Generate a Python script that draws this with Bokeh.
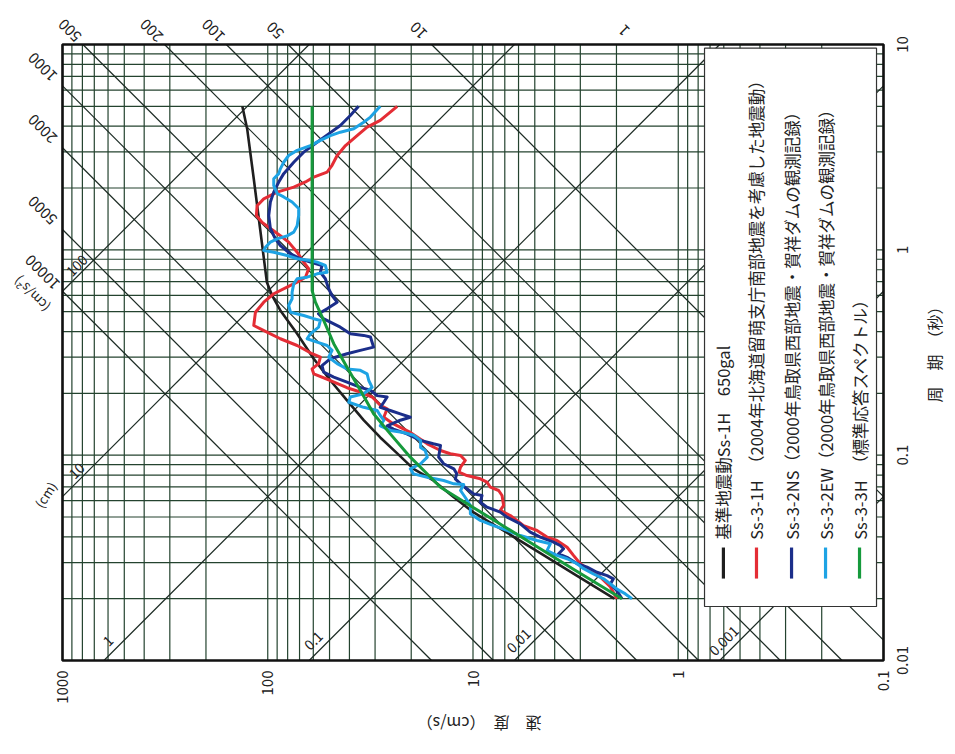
import math
from bokeh.plotting import figure
from bokeh.models import Range1d, ColumnDataSource, LabelSet, Label
from bokeh.core.properties import value
from bokeh.embed import file_html
from bokeh.resources import INLINE

FONT = "Noto Sans CJK JP"
GRID = "#24432f"
DIAG = "#1b2a23"
TXT = "#222222"

# ---------------- axes / reference lines ----------------
period_ticks = [0.01, 0.1, 1, 10]
period_labels = ["0.01", "0.1", "1", "10"]
velocity_ticks = [1000, 100, 10, 1, 0.1]
velocity_labels = ["1000", "100", "10", "1", "0.1"]
grid_mantissas = [2, 3, 4, 5, 6, 7, 8, 9]

accel_lines = [10, 50, 100, 200, 500, 1000, 2000, 5000, 10000]         # cm/s^2
accel_top_labels = [500, 200, 100, 50, 10, 1]
accel_left_labels = [1000, 2000, 5000, 10000]
disp_lines = [0.001, 0.01, 0.1, 1, 10, 100]                            # cm
disp_left_labels = [100, 10]
disp_bottom_labels = [1, 0.1, 0.01, 0.001]

# ---------------- series (period s, velocity cm/s) ----------------
series_names = [
    "基準地震動Ss-1H　650gal",
    "Ss-3-1H　（2004年北海道留萌支庁南部地震を考慮した地震動）",
    "Ss-3-2NS（2000年鳥取県西部地震・賀祥ダムの観測記録）",
    "Ss-3-2EW（2000年鳥取県西部地震・賀祥ダムの観測記録）",
    "Ss-3-3H　（標準応答スペクトル）",
]
series_colors = ["#1f1f1f", "#e42d35", "#1b2e8a", "#1ea3e4", "#169a3c"]
series_widths = [2.6, 3, 3, 3, 3]

ss1h_T = [5.0, 3.89, 2.22, 1.27, 0.696, 0.599, 0.507, 0.390, 0.295, 0.231, 0.185,
          0.148, 0.122, 0.102, 0.0858, 0.0753, 0.0624, 0.0526, 0.0419, 0.0333, 0.0265, 0.02]
ss1h_V = [133, 126, 117, 109, 101, 95.2, 86.8, 71.9, 59.7, 49.5, 41.1,
          34.1, 28.3, 23.4, 19.5, 15.6, 12.4, 9.93, 6.83, 4.70, 3.24, 2.05]

ss31h_T = [5.0, 4.27, 3.96, 3.60, 3.22, 2.88, 2.58, 2.39, 2.26, 2.14, 2.02, 1.91, 1.77, 1.64,
           1.47, 1.36, 1.27, 1.17, 1.09, 0.974, 0.871, 0.809, 0.736, 0.696, 0.658, 0.611,
           0.556, 0.497, 0.428, 0.405, 0.369, 0.342, 0.312, 0.300, 0.279, 0.263, 0.249,
           0.231, 0.213, 0.203, 0.192, 0.175, 0.168, 0.153, 0.142, 0.129, 0.1136, 0.1054,
           0.1016, 0.0996, 0.0942, 0.0874, 0.0826, 0.0796, 0.0767, 0.0739, 0.0698, 0.0673,
           0.0636, 0.0569, 0.0538, 0.0508, 0.0481, 0.0454, 0.0430, 0.0399, 0.0384, 0.0356,
           0.0325, 0.0296, 0.0274, 0.0255, 0.0228, 0.02]
ss31h_V = [23.4, 28.3, 32.8, 36.7, 41.8, 45.9, 48.6, 51.4, 59.7, 65.5, 74.7, 90.0, 104.6, 112.7,
           113.6, 106.5, 97.1, 86.8, 79.1, 71.9, 66.8, 63.2, 65.5, 71.9, 80.5, 93.5,
           104.6, 114.8, 117.0, 105.0, 86.8, 71.9, 60.8, 55.4, 56.5, 60.8, 59.7,
           49.5, 41.1, 35.4, 31.0, 28.3, 26.2, 27.2, 24.4, 20.2, 16.7, 14.4,
           12.9, 11.5, 10.9, 11.5, 11.7, 10.7, 9.21, 8.55, 8.23, 7.50,
           7.22, 7.09, 7.36, 6.58, 6.11, 5.67, 4.88, 4.36, 3.90, 3.48,
           3.24, 3.00, 2.68, 2.40, 2.14, 1.99]

ss32ns_T = [5.0, 4.51, 4.03, 3.67, 3.34, 2.99, 2.67, 2.35, 2.14, 1.91, 1.71, 1.47, 1.27, 1.13,
            1.05, 0.956, 0.905, 0.871, 0.839, 0.778, 0.723, 0.646, 0.599, 0.556, 0.516, 0.488,
            0.462, 0.420, 0.390, 0.383, 0.376, 0.336, 0.324, 0.312, 0.295, 0.273, 0.254, 0.240,
            0.227, 0.214, 0.207, 0.195, 0.192, 0.181, 0.171, 0.165, 0.159, 0.153, 0.148, 0.139,
            0.134, 0.127, 0.118, 0.1136, 0.1115, 0.0978, 0.0908, 0.0858, 0.0811, 0.0767, 0.0725,
            0.0686, 0.0648, 0.0636, 0.0590, 0.0558, 0.0528, 0.0499, 0.0463, 0.0422, 0.0399,
            0.0377, 0.0363, 0.0350, 0.0331, 0.0318, 0.0296, 0.0285, 0.0269, 0.0259, 0.0250,
            0.0236, 0.0219, 0.02]
ss32ns_V = [36.1, 39.6, 44.3, 50.5, 57.5, 66.8, 74.7, 83.6, 88.4, 93.5, 97.1, 98.9, 97.1, 91.8,
            86.8, 77.5, 69.3, 62.0, 54.4, 55.4, 52.4, 50.5, 48.6, 45.9, 51.4, 56.6,
            53.6, 44.3, 39.6, 34.1, 31.6, 30.5, 35.4, 41.1, 49.5, 54.4, 53.4, 47.7,
            41.1, 35.4, 31.6, 29.3, 26.2, 27.2, 28.3, 25.3, 22.6, 20.2, 22.6, 26.2,
            24.4, 21.0, 18.0, 15.6, 14.4, 14.7, 13.9, 12.4, 12.0, 12.2, 11.5,
            10.7, 9.93, 9.04, 9.21, 8.55, 7.36, 6.83, 5.88, 5.26, 4.70,
            4.05, 3.76, 3.62, 3.83, 3.48, 3.11, 2.78, 2.49, 2.22, 2.07,
            2.14, 1.99, 1.88]

ss32ew_T = [5.0, 4.43, 4.18, 3.89, 3.74, 3.60, 3.41, 3.22, 3.05, 2.88, 2.67, 2.48, 2.35, 2.22,
            2.06, 1.88, 1.81, 1.71, 1.59, 1.47, 1.31, 1.22, 1.17, 1.13, 1.09, 1.03, 0.993,
            0.974, 0.938, 0.905, 0.887, 0.871, 0.839, 0.778, 0.764, 0.736, 0.723, 0.683, 0.622,
            0.578, 0.536, 0.497, 0.479, 0.462, 0.453, 0.420, 0.390, 0.369, 0.355, 0.342, 0.324,
            0.300, 0.279, 0.263, 0.259, 0.249, 0.231, 0.214, 0.199, 0.192, 0.181, 0.171, 0.165,
            0.156, 0.148, 0.139, 0.132, 0.129, 0.125, 0.118, 0.109, 0.1054, 0.0978, 0.0908,
            0.0858, 0.0811, 0.0781, 0.0753, 0.0725, 0.0720, 0.0673, 0.0622, 0.0569, 0.0518,
            0.0481, 0.0454, 0.0430, 0.0406, 0.0384, 0.0370, 0.0343, 0.0325, 0.0313, 0.0296,
            0.0280, 0.0264, 0.0250, 0.0236, 0.0223, 0.0211, 0.02]
ss32ew_V = [28.3, 31.6, 34.1, 38.1, 44.3, 49.5, 55.4, 62.0, 71.9, 79.1, 83.6, 86.8, 88.4, 93.5,
            93.5, 90.0, 83.6, 76.1, 70.7, 70.7, 71.9, 74.7, 80.5, 90.0, 97.1, 102.6, 104.6,
            93.5, 80.5, 71.9, 62.0, 57.5, 52.4, 51.4, 57.5, 64.3, 71.9, 74.7, 76.1,
            76.1, 79.1, 77.5, 66.8, 59.7, 55.4, 56.5, 62.0, 64.3, 57.5, 51.4, 48.6,
            50.5, 45.9, 41.1, 35.4, 32.8, 32.2, 31.0, 34.1, 39.6, 40.3, 34.1, 29.3,
            28.3, 27.2, 28.3, 25.3, 21.8, 19.5, 18.0, 18.0, 17.1, 16.7, 18.0,
            20.2, 19.5, 16.7, 13.9, 12.4, 11.1, 11.5, 10.9, 10.3, 10.3,
            9.21, 7.94, 6.83, 5.88, 4.88, 4.20, 4.36, 3.90, 3.48, 3.11,
            2.89, 2.59, 2.31, 2.14, 1.99, 1.81, 1.68]

ss33h_T = [5.0, 0.634, 0.556, 0.453, 0.349, 0.268, 0.207, 0.159, 0.127, 0.0978, 0.0781,
           0.0698, 0.0555, 0.0441, 0.0350, 0.0278, 0.02]
ss33h_V = [60.8, 60.8, 58.6, 53.4, 47.7, 41.1, 35.4, 30.5, 25.3, 20.2, 16.1,
           14.4, 9.93, 6.83, 4.70, 3.24, 1.88]

series_T = [ss1h_T, ss31h_T, ss32ns_T, ss32ew_T, ss33h_T]
series_V = [ss1h_V, ss31h_V, ss32ns_V, ss32ew_V, ss33h_V]

# ---------------- layout ----------------
W, H = 947, 746                      # canvas
BOX_L, BOX_R, BOX_T, BOX_B = 62, 883, 44, 660   # chart box inside the canvas (px)
T_MIN, T_MAX = 0.01, 10.0
V_MAX, V_MIN = 1000.0, 0.1
TWO_PI = 2 * math.pi

px_dec_x = (BOX_R - BOX_L) / (math.log10(V_MAX) - math.log10(V_MIN))
px_dec_y = (BOX_B - BOX_T) / (math.log10(T_MAX) - math.log10(T_MIN))
x_lo = 10 ** (math.log10(V_MAX) + BOX_L / px_dec_x)
x_hi = 10 ** (math.log10(V_MIN) - (W - BOX_R) / px_dec_x)
y_hi = 10 ** (math.log10(T_MAX) + BOX_T / px_dec_y)
y_lo = 10 ** (math.log10(T_MIN) - (H - BOX_B) / px_dec_y)


def frame_point(fx, fy):
    """fraction of the chart box (left->right, bottom->top) -> (velocity, period)"""
    lv = math.log10(V_MAX) - fx * (math.log10(V_MAX) - math.log10(V_MIN))
    lt = math.log10(T_MIN) + fy * (math.log10(T_MAX) - math.log10(T_MIN))
    return 10 ** lv, 10 ** lt


def fmt(v):
    return "%g" % v


p = figure(width=W, height=H, x_axis_type="log", y_axis_type="log",
           x_range=Range1d(x_lo, x_hi), y_range=Range1d(y_lo, y_hi),
           output_backend="svg", toolbar_location=None,
           min_border_left=0, min_border_right=0, min_border_top=0, min_border_bottom=0)
p.xaxis.visible = False
p.yaxis.visible = False
p.xgrid.visible = False
p.ygrid.visible = False
p.background_fill_color = "white"
p.border_fill_color = "white"
p.outline_line_color = None

# log grid
vel_grid = velocity_ticks + [m * b for b in velocity_ticks[1:] for m in grid_mantissas]
per_grid = period_ticks + [m * b for b in period_ticks[:-1] for m in grid_mantissas]
p.segment(x0=vel_grid, y0=[T_MIN] * len(vel_grid), x1=vel_grid, y1=[T_MAX] * len(vel_grid),
          line_color=GRID, line_width=1.2)
p.segment(x0=[V_MAX] * len(per_grid), y0=per_grid, x1=[V_MIN] * len(per_grid), y1=per_grid,
          line_color=GRID, line_width=1.2)

# acceleration lines (V = A T / 2pi) and displacement lines (V = 2pi D / T), clipped to the box
dx0, dy0, dx1, dy1 = [], [], [], []
for a in accel_lines:
    t0 = max(T_MIN, TWO_PI * V_MIN / a)
    t1 = min(T_MAX, TWO_PI * V_MAX / a)
    if t0 < t1:
        dx0.append(a * t0 / TWO_PI); dy0.append(t0)
        dx1.append(a * t1 / TWO_PI); dy1.append(t1)
for d in disp_lines:
    t0 = max(T_MIN, TWO_PI * d / V_MAX)
    t1 = min(T_MAX, TWO_PI * d / V_MIN)
    if t0 < t1:
        dx0.append(TWO_PI * d / t0); dy0.append(t0)
        dx1.append(TWO_PI * d / t1); dy1.append(t1)
p.segment(x0=dx0, y0=dy0, x1=dx1, y1=dy1, line_color=DIAG, line_width=1.2)

# spectra
for T, V, c, w in zip(series_T, series_V, series_colors, series_widths):
    p.line(V, T, line_color=c, line_width=w, line_join="round")

# chart box
p.quad(left=[V_MAX], right=[V_MIN], bottom=[T_MIN], top=[T_MAX],
       fill_color=None, line_color="#111111", line_width=2.6)

# legend box (drawn by hand, rotated text)
bx0, by0 = frame_point(0.782, 0.0877)
bx1, by1 = frame_point(0.9915, 0.994)
p.quad(left=[bx0], right=[bx1], bottom=[by0], top=[by1],
       fill_color="white", line_color="#333333", line_width=1.2)
col_fx = [0.805, 0.8453, 0.888, 0.9294, 0.9708]
ly_a = frame_point(0, 0.133)[1]
ly_b = frame_point(0, 0.1834)[1]
ly_t = frame_point(0, 0.196)[1]
col_x = [frame_point(f, 0)[0] for f in col_fx]
p.segment(x0=col_x, y0=[ly_a] * 5, x1=col_x, y1=[ly_b] * 5,
          line_color=series_colors, line_width=3.2)
p.text(x=col_x, y=[ly_t] * 5, text=series_names, angle=math.pi / 2,
       text_align="left", text_baseline="middle", text_color=TXT,
       text_font=value(FONT), text_font_size=value("16.5px"))

# ---------------- tick labels ----------------
vsrc = ColumnDataSource(dict(x=velocity_ticks, y=[T_MIN] * len(velocity_ticks), t=velocity_labels))
p.add_layout(LabelSet(x="x", y="y", text="t", source=vsrc, angle=math.pi / 2, y_offset=-10,
                      text_align="right", text_baseline="middle", text_color=TXT,
                      text_font=value(FONT), text_font_size=value("15px")))
psrc = ColumnDataSource(dict(x=[V_MIN] * len(period_ticks), y=period_ticks, t=period_labels))
p.add_layout(LabelSet(x="x", y="y", text="t", source=psrc, angle=math.pi / 2, x_offset=19,
                      text_align="center", text_baseline="middle", text_color=TXT,
                      text_font=value(FONT), text_font_size=value("15px")))

# diagonal line labels
atop = ColumnDataSource(dict(x=[a * T_MAX / TWO_PI for a in accel_top_labels],
                             y=[T_MAX] * len(accel_top_labels),
                             t=[fmt(a) for a in accel_top_labels]))
p.add_layout(LabelSet(x="x", y="y", text="t", source=atop, angle=3 * math.pi / 4,
                      x_offset=-13, y_offset=14, text_align="center", text_baseline="middle",
                      text_color=TXT, text_font=value(FONT), text_font_size=value("15px")))
aleft = ColumnDataSource(dict(x=[V_MAX] * len(accel_left_labels),
                              y=[TWO_PI * V_MAX / a for a in accel_left_labels],
                              t=[fmt(a) for a in accel_left_labels]))
p.add_layout(LabelSet(x="x", y="y", text="t", source=aleft, angle=3 * math.pi / 4,
                      x_offset=-20, y_offset=19, text_align="center", text_baseline="middle",
                      text_color=TXT, text_font=value(FONT), text_font_size=value("15px")))
p.add_layout(Label(x=V_MAX, y=TWO_PI * V_MAX / accel_left_labels[-1], text="(cm/s²)",
                   angle=3 * math.pi / 4, x_offset=-31, y_offset=-3, text_align="center",
                   text_baseline="middle", text_color=TXT, text_font=FONT,
                   text_font_size="13px"))

dleft = ColumnDataSource(dict(x=[V_MAX] * len(disp_left_labels),
                              y=[TWO_PI * d / V_MAX for d in disp_left_labels],
                              t=[fmt(d) for d in disp_left_labels]))
p.add_layout(LabelSet(x="x", y="y", text="t", source=dleft, angle=math.pi / 4,
                      x_offset=14, y_offset=26, text_align="center", text_baseline="middle",
                      text_color=TXT, text_font=value(FONT), text_font_size=value("14px")))
p.add_layout(Label(x=V_MAX, y=TWO_PI * disp_left_labels[-1] / V_MAX, text="(cm)",
                   angle=1.0, x_offset=-17, y_offset=2, text_align="center",
                   text_baseline="middle", text_color=TXT, text_font=FONT,
                   text_font_size="13px"))
dbot = ColumnDataSource(dict(x=[TWO_PI * d / T_MIN for d in disp_bottom_labels],
                             y=[T_MIN] * len(disp_bottom_labels),
                             t=[fmt(d) for d in disp_bottom_labels]))
p.add_layout(LabelSet(x="x", y="y", text="t", source=dbot, angle=math.pi / 4,
                      x_offset=4, y_offset=20, text_align="center", text_baseline="middle",
                      text_color=TXT, text_font=value(FONT), text_font_size=value("14px")))

# axis titles
p.add_layout(Label(x=V_MIN, y=10 ** -0.5, text="周　期　（秒）", angle=math.pi / 2,
                   x_offset=50, y_offset=2, text_align="center", text_baseline="middle",
                   text_color=TXT, text_font=FONT, text_font_size="16px"))
p.add_layout(Label(x=10 ** 0.97, y=T_MIN, text="速　度　（cm/s）", angle=math.pi,
                   y_offset=-63, text_align="center", text_baseline="middle",
                   text_color=TXT, text_font=FONT, text_font_size="16px"))

open("out.html", "w").write(file_html(p, INLINE))
